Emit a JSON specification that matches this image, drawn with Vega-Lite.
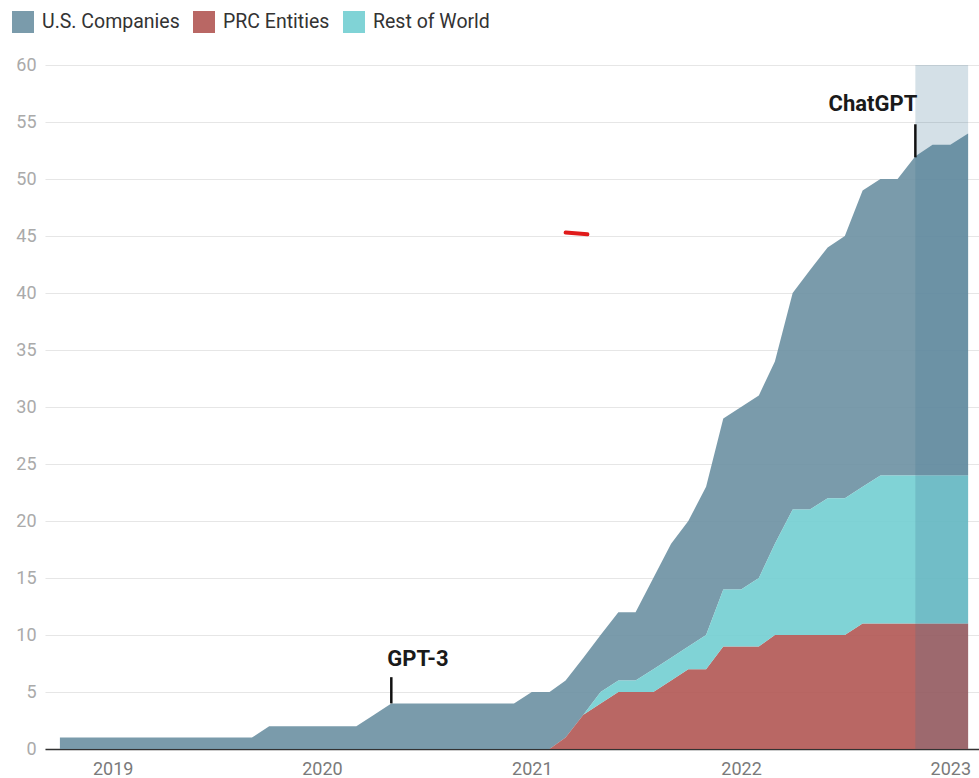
{
  "$schema": "https://vega.github.io/schema/vega-lite/v6.json",
  "width": 934,
  "height": 684,
  "autosize": "none",
  "padding": {"left": 45, "top": 65, "right": 0, "bottom": 29},
  "config": {
    "font": "Roboto",
    "view": {"stroke": null},
    "axis": {"labelFont": "Roboto"}
  },
  "datasets": {
    "counts": [
      {"month": "2018-10-01", "region": "U.S. Companies", "count": 1}, {"month": "2018-10-01", "region": "PRC Entities", "count": 0}, {"month": "2018-10-01", "region": "Rest of World", "count": 0},
      {"month": "2018-11-01", "region": "U.S. Companies", "count": 1}, {"month": "2018-11-01", "region": "PRC Entities", "count": 0}, {"month": "2018-11-01", "region": "Rest of World", "count": 0},
      {"month": "2018-12-01", "region": "U.S. Companies", "count": 1}, {"month": "2018-12-01", "region": "PRC Entities", "count": 0}, {"month": "2018-12-01", "region": "Rest of World", "count": 0},
      {"month": "2019-01-01", "region": "U.S. Companies", "count": 1}, {"month": "2019-01-01", "region": "PRC Entities", "count": 0}, {"month": "2019-01-01", "region": "Rest of World", "count": 0},
      {"month": "2019-02-01", "region": "U.S. Companies", "count": 1}, {"month": "2019-02-01", "region": "PRC Entities", "count": 0}, {"month": "2019-02-01", "region": "Rest of World", "count": 0},
      {"month": "2019-03-01", "region": "U.S. Companies", "count": 1}, {"month": "2019-03-01", "region": "PRC Entities", "count": 0}, {"month": "2019-03-01", "region": "Rest of World", "count": 0},
      {"month": "2019-04-01", "region": "U.S. Companies", "count": 1}, {"month": "2019-04-01", "region": "PRC Entities", "count": 0}, {"month": "2019-04-01", "region": "Rest of World", "count": 0},
      {"month": "2019-05-01", "region": "U.S. Companies", "count": 1}, {"month": "2019-05-01", "region": "PRC Entities", "count": 0}, {"month": "2019-05-01", "region": "Rest of World", "count": 0},
      {"month": "2019-06-01", "region": "U.S. Companies", "count": 1}, {"month": "2019-06-01", "region": "PRC Entities", "count": 0}, {"month": "2019-06-01", "region": "Rest of World", "count": 0},
      {"month": "2019-07-01", "region": "U.S. Companies", "count": 1}, {"month": "2019-07-01", "region": "PRC Entities", "count": 0}, {"month": "2019-07-01", "region": "Rest of World", "count": 0},
      {"month": "2019-08-01", "region": "U.S. Companies", "count": 1}, {"month": "2019-08-01", "region": "PRC Entities", "count": 0}, {"month": "2019-08-01", "region": "Rest of World", "count": 0},
      {"month": "2019-09-01", "region": "U.S. Companies", "count": 1}, {"month": "2019-09-01", "region": "PRC Entities", "count": 0}, {"month": "2019-09-01", "region": "Rest of World", "count": 0},
      {"month": "2019-10-01", "region": "U.S. Companies", "count": 2}, {"month": "2019-10-01", "region": "PRC Entities", "count": 0}, {"month": "2019-10-01", "region": "Rest of World", "count": 0},
      {"month": "2019-11-01", "region": "U.S. Companies", "count": 2}, {"month": "2019-11-01", "region": "PRC Entities", "count": 0}, {"month": "2019-11-01", "region": "Rest of World", "count": 0},
      {"month": "2019-12-01", "region": "U.S. Companies", "count": 2}, {"month": "2019-12-01", "region": "PRC Entities", "count": 0}, {"month": "2019-12-01", "region": "Rest of World", "count": 0},
      {"month": "2020-01-01", "region": "U.S. Companies", "count": 2}, {"month": "2020-01-01", "region": "PRC Entities", "count": 0}, {"month": "2020-01-01", "region": "Rest of World", "count": 0},
      {"month": "2020-02-01", "region": "U.S. Companies", "count": 2}, {"month": "2020-02-01", "region": "PRC Entities", "count": 0}, {"month": "2020-02-01", "region": "Rest of World", "count": 0},
      {"month": "2020-03-01", "region": "U.S. Companies", "count": 2}, {"month": "2020-03-01", "region": "PRC Entities", "count": 0}, {"month": "2020-03-01", "region": "Rest of World", "count": 0},
      {"month": "2020-04-01", "region": "U.S. Companies", "count": 3}, {"month": "2020-04-01", "region": "PRC Entities", "count": 0}, {"month": "2020-04-01", "region": "Rest of World", "count": 0},
      {"month": "2020-05-01", "region": "U.S. Companies", "count": 4}, {"month": "2020-05-01", "region": "PRC Entities", "count": 0}, {"month": "2020-05-01", "region": "Rest of World", "count": 0},
      {"month": "2020-06-01", "region": "U.S. Companies", "count": 4}, {"month": "2020-06-01", "region": "PRC Entities", "count": 0}, {"month": "2020-06-01", "region": "Rest of World", "count": 0},
      {"month": "2020-07-01", "region": "U.S. Companies", "count": 4}, {"month": "2020-07-01", "region": "PRC Entities", "count": 0}, {"month": "2020-07-01", "region": "Rest of World", "count": 0},
      {"month": "2020-08-01", "region": "U.S. Companies", "count": 4}, {"month": "2020-08-01", "region": "PRC Entities", "count": 0}, {"month": "2020-08-01", "region": "Rest of World", "count": 0},
      {"month": "2020-09-01", "region": "U.S. Companies", "count": 4}, {"month": "2020-09-01", "region": "PRC Entities", "count": 0}, {"month": "2020-09-01", "region": "Rest of World", "count": 0},
      {"month": "2020-10-01", "region": "U.S. Companies", "count": 4}, {"month": "2020-10-01", "region": "PRC Entities", "count": 0}, {"month": "2020-10-01", "region": "Rest of World", "count": 0},
      {"month": "2020-11-01", "region": "U.S. Companies", "count": 4}, {"month": "2020-11-01", "region": "PRC Entities", "count": 0}, {"month": "2020-11-01", "region": "Rest of World", "count": 0},
      {"month": "2020-12-01", "region": "U.S. Companies", "count": 4}, {"month": "2020-12-01", "region": "PRC Entities", "count": 0}, {"month": "2020-12-01", "region": "Rest of World", "count": 0},
      {"month": "2021-01-01", "region": "U.S. Companies", "count": 5}, {"month": "2021-01-01", "region": "PRC Entities", "count": 0}, {"month": "2021-01-01", "region": "Rest of World", "count": 0},
      {"month": "2021-02-01", "region": "U.S. Companies", "count": 5}, {"month": "2021-02-01", "region": "PRC Entities", "count": 0}, {"month": "2021-02-01", "region": "Rest of World", "count": 0},
      {"month": "2021-03-01", "region": "U.S. Companies", "count": 5}, {"month": "2021-03-01", "region": "PRC Entities", "count": 1}, {"month": "2021-03-01", "region": "Rest of World", "count": 0},
      {"month": "2021-04-01", "region": "U.S. Companies", "count": 5}, {"month": "2021-04-01", "region": "PRC Entities", "count": 3}, {"month": "2021-04-01", "region": "Rest of World", "count": 0},
      {"month": "2021-05-01", "region": "U.S. Companies", "count": 5}, {"month": "2021-05-01", "region": "PRC Entities", "count": 4}, {"month": "2021-05-01", "region": "Rest of World", "count": 1},
      {"month": "2021-06-01", "region": "U.S. Companies", "count": 6}, {"month": "2021-06-01", "region": "PRC Entities", "count": 5}, {"month": "2021-06-01", "region": "Rest of World", "count": 1},
      {"month": "2021-07-01", "region": "U.S. Companies", "count": 6}, {"month": "2021-07-01", "region": "PRC Entities", "count": 5}, {"month": "2021-07-01", "region": "Rest of World", "count": 1},
      {"month": "2021-08-01", "region": "U.S. Companies", "count": 8}, {"month": "2021-08-01", "region": "PRC Entities", "count": 5}, {"month": "2021-08-01", "region": "Rest of World", "count": 2},
      {"month": "2021-09-01", "region": "U.S. Companies", "count": 10}, {"month": "2021-09-01", "region": "PRC Entities", "count": 6}, {"month": "2021-09-01", "region": "Rest of World", "count": 2},
      {"month": "2021-10-01", "region": "U.S. Companies", "count": 11}, {"month": "2021-10-01", "region": "PRC Entities", "count": 7}, {"month": "2021-10-01", "region": "Rest of World", "count": 2},
      {"month": "2021-11-01", "region": "U.S. Companies", "count": 13}, {"month": "2021-11-01", "region": "PRC Entities", "count": 7}, {"month": "2021-11-01", "region": "Rest of World", "count": 3},
      {"month": "2021-12-01", "region": "U.S. Companies", "count": 15}, {"month": "2021-12-01", "region": "PRC Entities", "count": 9}, {"month": "2021-12-01", "region": "Rest of World", "count": 5},
      {"month": "2022-01-01", "region": "U.S. Companies", "count": 16}, {"month": "2022-01-01", "region": "PRC Entities", "count": 9}, {"month": "2022-01-01", "region": "Rest of World", "count": 5},
      {"month": "2022-02-01", "region": "U.S. Companies", "count": 16}, {"month": "2022-02-01", "region": "PRC Entities", "count": 9}, {"month": "2022-02-01", "region": "Rest of World", "count": 6},
      {"month": "2022-03-01", "region": "U.S. Companies", "count": 16}, {"month": "2022-03-01", "region": "PRC Entities", "count": 10}, {"month": "2022-03-01", "region": "Rest of World", "count": 8},
      {"month": "2022-04-01", "region": "U.S. Companies", "count": 19}, {"month": "2022-04-01", "region": "PRC Entities", "count": 10}, {"month": "2022-04-01", "region": "Rest of World", "count": 11},
      {"month": "2022-05-01", "region": "U.S. Companies", "count": 21}, {"month": "2022-05-01", "region": "PRC Entities", "count": 10}, {"month": "2022-05-01", "region": "Rest of World", "count": 11},
      {"month": "2022-06-01", "region": "U.S. Companies", "count": 22}, {"month": "2022-06-01", "region": "PRC Entities", "count": 10}, {"month": "2022-06-01", "region": "Rest of World", "count": 12},
      {"month": "2022-07-01", "region": "U.S. Companies", "count": 23}, {"month": "2022-07-01", "region": "PRC Entities", "count": 10}, {"month": "2022-07-01", "region": "Rest of World", "count": 12},
      {"month": "2022-08-01", "region": "U.S. Companies", "count": 26}, {"month": "2022-08-01", "region": "PRC Entities", "count": 11}, {"month": "2022-08-01", "region": "Rest of World", "count": 12},
      {"month": "2022-09-01", "region": "U.S. Companies", "count": 26}, {"month": "2022-09-01", "region": "PRC Entities", "count": 11}, {"month": "2022-09-01", "region": "Rest of World", "count": 13},
      {"month": "2022-10-01", "region": "U.S. Companies", "count": 26}, {"month": "2022-10-01", "region": "PRC Entities", "count": 11}, {"month": "2022-10-01", "region": "Rest of World", "count": 13},
      {"month": "2022-11-01", "region": "U.S. Companies", "count": 28}, {"month": "2022-11-01", "region": "PRC Entities", "count": 11}, {"month": "2022-11-01", "region": "Rest of World", "count": 13},
      {"month": "2022-12-01", "region": "U.S. Companies", "count": 29}, {"month": "2022-12-01", "region": "PRC Entities", "count": 11}, {"month": "2022-12-01", "region": "Rest of World", "count": 13},
      {"month": "2023-01-01", "region": "U.S. Companies", "count": 29}, {"month": "2023-01-01", "region": "PRC Entities", "count": 11}, {"month": "2023-01-01", "region": "Rest of World", "count": 13},
      {"month": "2023-02-01", "region": "U.S. Companies", "count": 30}, {"month": "2023-02-01", "region": "PRC Entities", "count": 11}, {"month": "2023-02-01", "region": "Rest of World", "count": 13}
    ],
    "shade": [{"start": "2022-11-01", "end": "2023-02-01"}],
    "events": [
      {"date": "2020-05-01", "event": "GPT-3", "low": 4, "high": 6.3, "labelY": 7.3},
      {"date": "2022-11-01", "event": "ChatGPT", "low": 51.9, "high": 54.8, "labelY": 56}
    ],
    "mark": [{"date": "2021-03-01", "date2": "2021-04-08", "v": 45.3, "v2": 45.15}]
  },
  "layer": [
    {
      "data": {"name": "counts"},
      "mark": {"type": "area", "opacity": 0.9, "interpolate": "linear"},
      "encoding": {
        "x": {
          "field": "month", "type": "temporal",
          "scale": {"type": "utc", "domain": [{"year": 2018, "month": 9, "date": 5, "utc": true}, {"year": 2023, "month": 2, "date": 20, "utc": true}]},
          "axis": {
            "title": null, "format": "%Y", "formatType": "utc",
            "values": [{"year": 2019, "month": 1, "date": 1, "utc": true}, {"year": 2020, "month": 1, "date": 1, "utc": true}, {"year": 2021, "month": 1, "date": 1, "utc": true}, {"year": 2022, "month": 1, "date": 1, "utc": true}, {"year": 2023, "month": 1, "date": 1, "utc": true}],
            "grid": false, "ticks": false, "domain": true, "domainColor": "#333333", "domainWidth": 1.5,
            "labelFontSize": 18, "labelColor": "#7a7a7a", "labelPadding": 11, "labelFlush": false
          }
        },
        "y": {
          "field": "count", "type": "quantitative", "stack": "zero",
          "scale": {"domain": [0, 60], "nice": false},
          "axis": {
            "title": null, "values": [0, 5, 10, 15, 20, 25, 30, 35, 40, 45, 50, 55, 60],
            "grid": true, "gridColor": "#e6e6e6", "gridWidth": 1.2, "ticks": false, "domain": false,
            "labelFontSize": 18, "labelColor": "#aaaaaa", "labelPadding": 9
          }
        },
        "color": {
          "field": "region", "type": "nominal",
          "scale": {"domain": ["U.S. Companies", "PRC Entities", "Rest of World"], "range": ["#6c90a2", "#b15753", "#72ced1"]},
          "legend": {
            "title": null, "orient": "none", "legendX": -33, "legendY": -54, "direction": "horizontal",
            "symbolType": "square", "symbolSize": 484, "symbolStrokeWidth": 0, "symbolOpacity": 0.9,
            "labelFontSize": 19.5, "labelColor": "#333333", "labelOffset": 8, "columnPadding": 13, "padding": 0
          }
        },
        "order": {"field": "region", "sort": "ascending"}
      }
    },
    {
      "data": {"name": "shade"},
      "mark": {"type": "rect", "color": "#3a7290", "opacity": 0.22},
      "encoding": {
        "x": {"field": "start", "type": "temporal"},
        "x2": {"field": "end"}
      }
    },
    {
      "data": {"name": "events"},
      "mark": {"type": "rule", "color": "#111111", "strokeWidth": 2.5},
      "encoding": {
        "x": {"field": "date", "type": "temporal"},
        "y": {"field": "low", "type": "quantitative"},
        "y2": {"field": "high"}
      }
    },
    {
      "data": {"name": "events"},
      "transform": [{"filter": "datum.event == 'GPT-3'"}],
      "mark": {"type": "text", "align": "left", "baseline": "alphabetic", "dx": -4, "fontSize": 22, "fontWeight": "bold", "color": "#1a1a1a"},
      "encoding": {
        "x": {"field": "date", "type": "temporal"},
        "y": {"field": "labelY", "type": "quantitative"},
        "text": {"field": "event"}
      }
    },
    {
      "data": {"name": "events"},
      "transform": [{"filter": "datum.event == 'ChatGPT'"}],
      "mark": {"type": "text", "align": "right", "baseline": "alphabetic", "dx": 2, "fontSize": 22, "fontWeight": "bold", "color": "#1a1a1a"},
      "encoding": {
        "x": {"field": "date", "type": "temporal"},
        "y": {"field": "labelY", "type": "quantitative"},
        "text": {"field": "event"}
      }
    },
    {
      "data": {"name": "mark"},
      "mark": {"type": "rule", "color": "#e01b1b", "strokeWidth": 4, "strokeCap": "round"},
      "encoding": {
        "x": {"field": "date", "type": "temporal"},
        "x2": {"field": "date2"},
        "y": {"field": "v", "type": "quantitative"},
        "y2": {"field": "v2"}
      }
    }
  ]
}
